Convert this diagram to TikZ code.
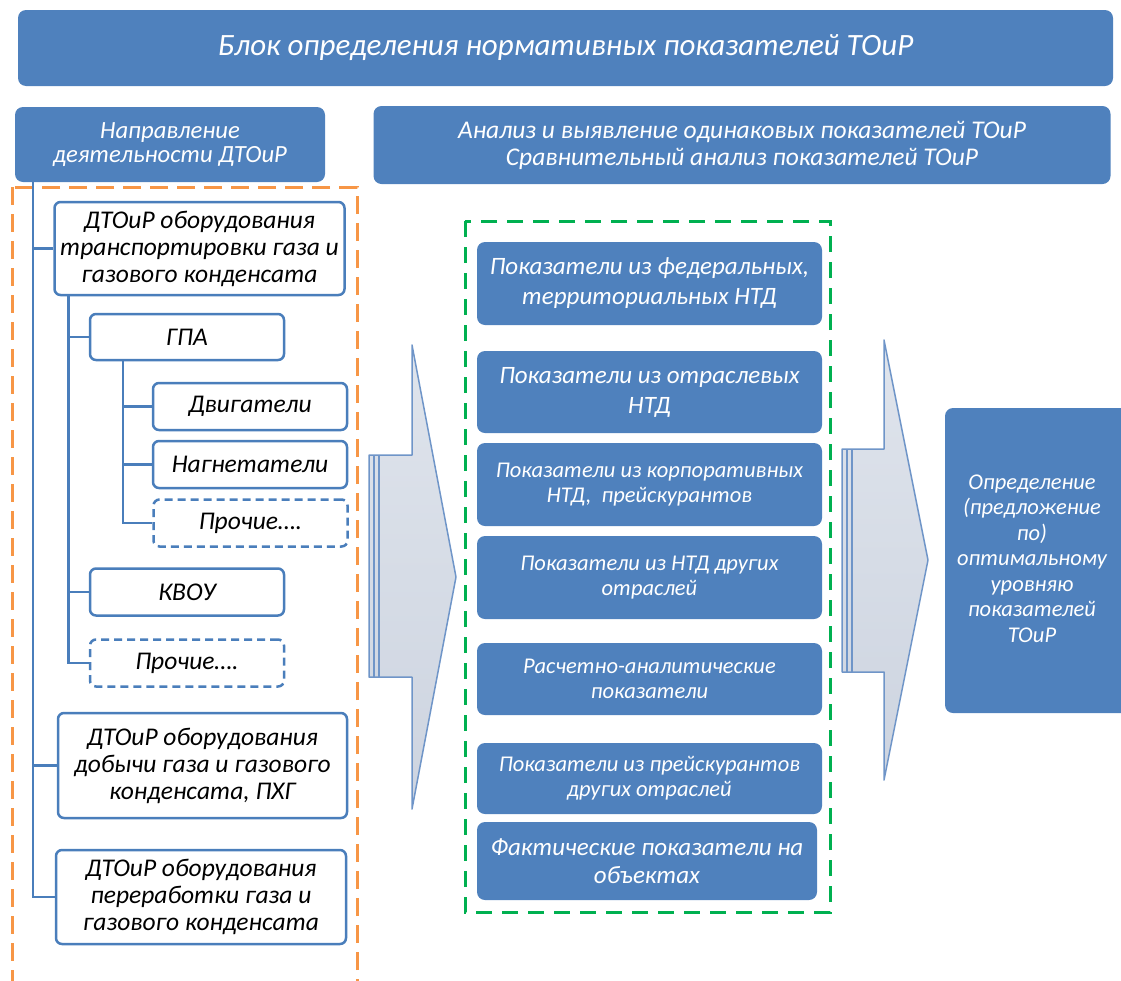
\documentclass[tikz,border=0pt]{standalone}
\usepackage{fontspec}
\setmainfont{Carlito}
\definecolor{ofblue}{HTML}{4F81BD}
\definecolor{ofline}{HTML}{4A7EBB}
\definecolor{ofgreen}{HTML}{00B050}
\definecolor{oforange}{HTML}{F79646}
\definecolor{arrtop}{HTML}{DFE4EC}
\definecolor{arrbot}{HTML}{CDD4E0}
\definecolor{arrline}{HTML}{6F95C8}

\begin{document}
\begin{tikzpicture}[x=1pt,y=-1pt,
    bluebox/.style={fill=ofblue,rounded corners=8pt,text=white,align=center,inner sep=0pt},
    whitebox/.style={draw=ofline,line width=2.5pt,fill=white,rounded corners=6pt,align=center,inner sep=0pt},
    etcbox/.style={whitebox,dash pattern=on 8pt off 5pt},
    tree/.style={draw=ofline,line width=2.5pt},
    arrowbody/.style={draw=arrline,line width=1.5pt,top color=arrtop,bottom color=arrbot,line join=round},
    arrowedge/.style={draw=arrline,line width=1.2pt},
    bigfont/.style={font=\fontsize{25.5}{27}\selectfont\itshape},
    midfont/.style={font=\fontsize{25}{30}\selectfont\itshape},
    smallfont/.style={font=\fontsize{22.5}{25}\selectfont\itshape}]
  \useasboundingbox (0,0) rectangle (1121,980);
  \clip (0,0) rectangle (1121,980);
    \node[bluebox,minimum width=1095,minimum height=76,font=\fontsize{31}{34}\selectfont\itshape] (title) at (565.5, 48) {Блок определения нормативных показателей ТОиР};
    \node[bluebox,minimum width=310,minimum height=75,font=\fontsize{24.7}{24}\selectfont\itshape] (hdr) at (170, 144.5) {Направление\\деятельности ДТОиР};
    \node[bluebox,minimum width=737,minimum height=78,font=\fontsize{25.5}{27}\selectfont\itshape] (anl) at (742, 145) {Анализ и выявление одинаковых показателей ТОиР\\Сравнительный анализ показателей ТОиР};
    \draw[oforange,line width=3pt,dash pattern=on 18pt off 9pt] (12, 187) rectangle (357, 1000);
    \draw[ofgreen,line width=3pt,dash pattern=on 16pt off 10pt] (465, 221) rectangle (830, 912);
    \node[whitebox,minimum width=290,minimum height=93,bigfont] (tra) at (199.5, 248.5) {ДТОиР оборудования\\транспортировки газа и\\газового конденсата};
    \node[whitebox,minimum width=194,minimum height=46,bigfont] (gpa) at (187, 337) {ГПА};
    \node[whitebox,minimum width=194,minimum height=47,bigfont] (dvig) at (250, 406.5) {Двигатели};
    \node[whitebox,minimum width=194,minimum height=47,bigfont] (nagn) at (250, 464.5) {Нагнетатели};
    \node[etcbox,minimum width=194,minimum height=47,bigfont] (etcA) at (250.5, 523) {Прочие….};
    \node[whitebox,minimum width=194,minimum height=47,bigfont] (kvou) at (187, 592) {КВОУ};
    \node[etcbox,minimum width=194,minimum height=47,bigfont] (etcB) at (187, 663) {Прочие….};
    \node[whitebox,minimum width=289,minimum height=105,bigfont] (dob) at (202.5, 765.5) {ДТОиР оборудования\\добычи газа и газового\\конденсата, ПХГ};
    \node[whitebox,minimum width=290,minimum height=94,bigfont] (per) at (201, 897) {ДТОиР оборудования\\переработки газа и\\газового конденсата};
    \draw[tree] ([xshift=18]hdr.south west) |- (tra.west);
    \draw[tree] ([xshift=18]hdr.south west) |- (dob.west);
    \draw[tree] ([xshift=18]hdr.south west) |- (per.west);
    \draw[tree] ([xshift=15]tra.south west) |- (gpa.west);
    \draw[tree] ([xshift=15]tra.south west) |- (kvou.west);
    \draw[tree] ([xshift=15]tra.south west) |- (etcB.west);
    \draw[tree] ([xshift=34]gpa.south west) |- (dvig.west);
    \draw[tree] ([xshift=34]gpa.south west) |- (nagn.west);
    \draw[tree] ([xshift=34]gpa.south west) |- (etcA.west);
    \path[arrowbody] (369,455) -- (412,455) -- (412,345) -- (456,577) -- (412,809) -- (412,677) -- (369,677) -- cycle;
    \draw[arrowedge] (374,455) -- (374,677);
    \draw[arrowedge] (379,455) -- (379,677);
    \path[arrowbody] (842,449) -- (884,449) -- (884,340) -- (928,560) -- (884,780) -- (884,672) -- (842,672) -- cycle;
    \draw[arrowedge] (847,449) -- (847,672);
    \draw[arrowedge] (852,449) -- (852,672);
    \node[bluebox,minimum width=345,minimum height=83,midfont] (fed) at (649.5, 283.5) {Показатели из федеральных,\\территориальных НТД};
    \node[bluebox,minimum width=345,minimum height=82,midfont] (otr) at (649.5, 392) {Показатели из отраслевых\\НТД};
    \node[bluebox,minimum width=345,minimum height=83,smallfont] (korp) at (649.5, 484.5) {Показатели из корпоративных\\НТД,~ прейскурантов};
    \node[bluebox,minimum width=345,minimum height=83,smallfont] (drug) at (649.5, 577.5) {Показатели из НТД других\\отраслей};
    \node[bluebox,minimum width=345,minimum height=72,smallfont] (rasch) at (649.5, 679) {Расчетно-аналитические\\показатели};
    \node[bluebox,minimum width=345,minimum height=71,smallfont] (preisk) at (649.5, 778.5) {Показатели из прейскурантов\\других отраслей};
    \node[bluebox,minimum width=340,minimum height=78,font=\fontsize{25}{28}\selectfont\itshape] (fakt) at (647, 861) {Фактические показатели на\\объектах};
    \node[bluebox,minimum width=190,minimum height=305,font=\fontsize{22.5}{25.5}\selectfont\itshape] (opt) at (1040, 560.5) {\hspace*{-16pt}\begin{tabular}{@{}c@{}}Определение\\(предложение\\по)\\оптимальному\\уровняю\\показателей\\ТОиР\end{tabular}};
\end{tikzpicture}
\end{document}
